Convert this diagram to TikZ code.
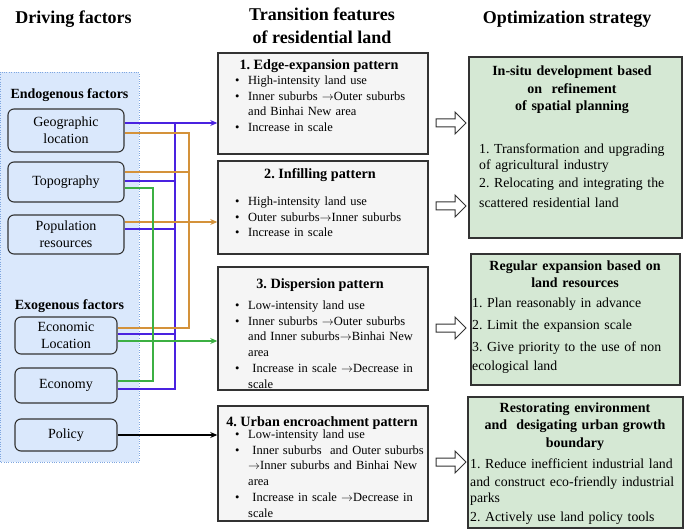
\documentclass[tikz,border=0pt]{standalone}
\usepackage{fontspec}
\setmainfont{Liberation Serif}
\newfontfamily\timesfont{Liberation Serif}
\usetikzlibrary{arrows.meta}

\definecolor{boxline}{HTML}{333333}
\definecolor{bluefill}{HTML}{DAE8FC}
\definecolor{bgline}{HTML}{7EA6E0}
\definecolor{greyfill}{HTML}{F5F5F5}
\definecolor{greenfill}{HTML}{D5E8D4}
\definecolor{bluewire}{HTML}{4A22E0}
\definecolor{orangewire}{HTML}{D4923A}
\definecolor{greenwire}{HTML}{3CB043}

\newcommand{\itemdot}{\makebox[13pt][l]{\textbullet}}
\newcommand{\itemgap}{\hspace*{13pt}}
\newcommand{\goesto}{$\rightarrow$}
\frenchspacing

\begin{document}
\begin{tikzpicture}[x=1pt, y=-1pt, >={Stealth[length=7pt,width=6pt]},
    every node/.style={font=\timesfont},
    head/.style={font=\timesfont\fontsize{18}{23}\selectfont\bfseries, align=center, inner sep=0},
    group/.style={font=\timesfont\fontsize{14}{16}\selectfont\bfseries, inner sep=0},
    factorbox/.style={draw=boxline, line width=1.1pt, rounded corners=6pt, fill=bluefill,
        font=\timesfont\fontsize{14}{17}\selectfont, align=center, inner sep=0},
    featbox/.style={draw=boxline, line width=1.5pt, fill=greyfill, inner sep=0},
    stratbox/.style={draw=boxline, line width=1.5pt, fill=greenfill, inner sep=0},
    ftitle/.style={font=\timesfont\fontsize{14.2}{16}\selectfont\bfseries, inner sep=0, anchor=base},
    fbody/.style={font=\timesfont\fontsize{12.5}{15.7}\selectfont, text width=200, align=left,
        inner sep=0, anchor=base west},
    stitle/.style={font=\timesfont\fontsize{14}{17.5}\selectfont\bfseries, text width=212,
        align=center, inner sep=0, anchor=base},
    sbody/.style={font=\timesfont\fontsize{13.8}{16}\selectfont, text width=215, align=left,
        inner sep=0, anchor=base west},
    hollow/.style={draw=boxline, line width=1pt, fill=white, line join=miter},
    bluewire/.style={draw=bluewire, line width=1.2pt},
    orangewire/.style={draw=orangewire, line width=1.2pt},
    greenwire/.style={draw=greenwire, line width=1.2pt},
    blackwire/.style={draw=black, line width=1.2pt}]
    \useasboundingbox (0,0) rectangle (685,529);

    % column headings
    \path (73.5, 19) node[head] (hdrive) {Driving factors};
    \path (322, 26)  node[head] (htrans) {Transition features\\of residential land};
    \path (567, 19)  node[head] (hopt)   {Optimization strategy};

    % driving factors
    \draw[dotted, draw=bgline, fill=bluefill] (0,72) rectangle (139,462);
    \path (69.5, 99)  node[group, anchor=base] (endo) {Endogenous factors};
    \path (69.5, 309) node[group, anchor=base] (exo)  {Exogenous factors};

    \path (66, 130.5) node[factorbox, minimum width=116, minimum height=43] (geo)    {Geographic\\location};
    \path (66, 182)   node[factorbox, minimum width=116, minimum height=40] (topo)   {Topography};
    \path (66, 234.5) node[factorbox, minimum width=116, minimum height=39] (pop)    {Population\\resources};
    \path (66, 335.5) node[factorbox, minimum width=102, minimum height=37] (ecoloc) {Economic\\Location};
    \path (66, 385.5) node[factorbox, minimum width=102, minimum height=35] (eco)    {Economy};
    \path (66, 435)   node[factorbox, minimum width=102, minimum height=32] (pol)    {Policy};

    % transition features
    \path (323, 103.5) node[featbox, minimum width=210, minimum height=101] (b1) {};
    \path (323, 207.5) node[featbox, minimum width=210, minimum height=93]  (b2) {};
    \path (323, 328.5) node[featbox, minimum width=210, minimum height=123] (b3) {};
    \path (323, 463.5) node[featbox, minimum width=210, minimum height=115] (b4) {};

    \path (319, 70)  node[ftitle] (t1) {1. Edge-expansion pattern};
    \path (320, 179) node[ftitle] (t2) {2. Infilling pattern};
    \path (320, 288) node[ftitle] (t3) {3. Dispersion pattern};
    \path (322, 426) node[ftitle] (t4) {4. Urban encroachment pattern};

    \path (235, 84.5) node[fbody] (l1) {\itemdot High-intensity land use\\
        \itemdot Inner suburbs \goesto Outer suburbs\\
        \itemgap and Binhai New area\\
        \itemdot Increase in scale};
    \path (235, 205.5) node[fbody] (l2) {\itemdot High-intensity land use\\
        \itemdot Outer suburbs\goesto Inner suburbs\\
        \itemdot Increase in scale};
    \path (235, 309.5) node[fbody] (l3) {\itemdot Low-intensity land use\\
        \itemdot Inner suburbs \goesto Outer suburbs\\
        \itemgap and Inner suburbs\goesto Binhai New\\
        \itemgap area\\
        \itemdot \ Increase in scale \goesto Decrease in\\
        \itemgap scale};
    \path (235, 438.5) node[fbody] (l4) {\itemdot Low-intensity land use\\
        \itemdot \ Inner suburbs\ \ and Outer suburbs\\
        \itemgap \goesto Inner suburbs and Binhai New\\
        \itemgap area\\
        \itemdot \ Increase in scale \goesto Decrease in\\
        \itemgap scale};

    % hollow arrows
    \foreach \y in {123, 206, 328, 462}
        \draw[hollow] (436,\y-4) -- (455,\y-4) -- (455,\y-11) -- (466,\y)
            -- (455,\y+11) -- (455,\y+4) -- (436,\y+4) -- cycle;

    % optimization strategy
    \path (575.5, 147.5) node[stratbox, minimum width=213, minimum height=181] (s1) {};
    \path (575.5, 319.5) node[stratbox, minimum width=209, minimum height=131] (s2) {};
    \path (575.5, 462.5) node[stratbox, minimum width=215, minimum height=131] (s3) {};

    \path (572, 76)  node[stitle] (st1) {In-situ development based\\on\ \ refinement\\of spatial planning};
    \path (575, 270) node[stitle] (st2) {Regular expansion based on\\land resources};
    \path (575, 412) node[stitle] (st3) {Restorating environment\\and\ \ desigating urban growth\\boundary};

    \path (479, 153.5) node[sbody] (sl1) {1. Transformation and upgrading\\
        of agricultural industry\\[2pt]
        2. Relocating and integrating the\\[4pt]
        scattered residential land};
    \path (472, 307.5) node[sbody, font=\timesfont\fontsize{13.8}{19}\selectfont] (sl2) {1. Plan reasonably in advance\\[3pt]
        2. Limit the expansion scale\\[3pt]
        3. Give priority to the use of non\\
        ecological land};
    \path (470, 468.5) node[sbody] (sl3) {1. Reduce inefficient industrial land\\[2pt]
        and construct eco-friendly industrial\\
        parks\\[3pt]
        2. Actively use land policy tools};

    % connectors
    \draw[bluewire, ->] (geo.east |- 0,123) -- (b1.west |- 0,123);
    \draw[bluewire] (topo.east |- 0,181) -- (175,181);
    \draw[bluewire] (pop.east |- 0,229) -- (175,229);
    \draw[bluewire] (ecoloc.east |- 0,334) -- (175,334);
    \draw[bluewire] (eco.east |- 0,389) -| (175,123);

    \draw[orangewire] (geo.east |- 0,133) -| (189,328) -- (ecoloc.east |- 0,328);
    \draw[orangewire] (topo.east |- 0,172) -- (189,172);
    \draw[orangewire, ->] (pop.east |- 0,222) -- (b2.west |- 0,222);

    \draw[greenwire] (topo.east |- 0,188) -| (153,381) -- (eco.east |- 0,381);
    \draw[greenwire, ->] (ecoloc.east |- 0,341) -- (b3.west |- 0,341);

    \draw[blackwire, ->] (pol.east) -- (b4.west |- pol.east);
\end{tikzpicture}
\end{document}
